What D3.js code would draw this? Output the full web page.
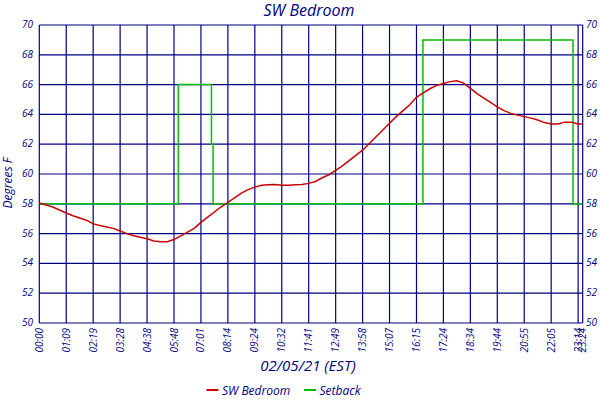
<!DOCTYPE html>
<html>
<head>
<meta charset="utf-8">
<script src="https://cdn.jsdelivr.net/npm/d3@7/dist/d3.min.js"></script>
<style>
  html, body { margin: 0; padding: 0; background: #fff; }
  text { font-family: "Open Sans", sans-serif; font-style: italic; fill: #000080; }
</style>
</head>
<body>
<svg id="chart" width="600" height="400"></svg>
<script>
// ---- data ----
const title = "SW Bedroom";
const xTitle = "02/05/21 (EST)";
const yTitle = "Degrees F";
// x tick labels and their positions (sample-index units)
const tickLabels = ["00:00","01:09","02:19","03:28","04:38","05:48","07:01","08:14","09:24","10:32",
  "11:41","12:49","13:58","15:07","16:15","17:24","18:34","19:44","20:55","22:05","23:14","23:24"];
const tickPos = [0,1,2,3,4,5,6,7,8,9,10,11,12,13,14,15,16,17,18,19,20,20.17];
const yTicks = [50,52,54,56,58,60,62,64,66,68,70];
// SW Bedroom temperature, one sample every 0.25 index units
const bedroomStep = 0.25;
const bedroom = [
  58.05,57.92,57.78,57.58,57.38,57.2,57.05,56.9,
  56.65,56.55,56.45,56.35,56.17,56.0,55.85,55.75,
  55.65,55.5,55.45,55.45,55.6,55.85,56.1,56.35,
  56.75,57.1,57.45,57.8,58.1,58.4,58.72,58.95,
  59.12,59.25,59.28,59.3,59.25,59.25,59.28,59.3,
  59.37,59.5,59.75,59.95,60.25,60.55,60.9,61.25,
  61.6,62.05,62.5,62.95,63.4,63.85,64.25,64.65,
  65.15,65.45,65.72,65.95,66.08,66.2,66.25,66.1,
  65.75,65.4,65.1,64.8,64.5,64.25,64.07,63.95,
  63.85,63.75,63.62,63.45,63.36,63.36,63.48,63.48,
  63.36,63.36
];
// Setback schedule: change positions and values
const setbackPos = [0, 5.16, 6.39, 6.45, 14.24, 19.81, 20.17];
const setbackVal = [58, 66, 62, 58, 69, 58, 58];
const legendNames = ["SW Bedroom", "Setback"];
const legendColors = ["#cc0000", "#00c000"];

// ---- layout ----
const svg = d3.select("#chart");
const L = 39.3, R = 582.7, T = 25, B = 323;
const x = d3.scaleLinear().domain([0, 20.17]).range([L, R]);
const y = d3.scaleLinear().domain([50, 70]).range([B, T]);
const navy = "#000080";

// grid
const g = svg.append("g");
g.selectAll("line.h").data(yTicks).join("line")
  .attr("x1", L).attr("x2", R)
  .attr("y1", d => y(d)).attr("y2", d => y(d))
  .attr("stroke", navy).attr("stroke-width", 1.2);
g.selectAll("line.v").data(tickPos).join("line")
  .attr("x1", d => x(d)).attr("x2", d => x(d))
  .attr("y1", T).attr("y2", B)
  .attr("stroke", navy).attr("stroke-width", 1.2);

// y tick labels left & right
svg.append("g").selectAll("text").data(yTicks).join("text")
  .attr("x", 33).attr("y", d => y(d)).attr("dy", "0.3em")
  .attr("text-anchor", "end").attr("font-size", 10).text(d => d);
svg.append("g").selectAll("text").data(yTicks).join("text")
  .attr("x", 586).attr("y", d => y(d)).attr("dy", "0.3em")
  .attr("text-anchor", "start").attr("font-size", 10).text(d => d);

// x tick labels
svg.append("g").selectAll("text").data(tickLabels).join("text")
  .attr("transform", (d, i) => `translate(${x(tickPos[i])},${B + 5}) rotate(-90)`)
  .attr("dy", "0.35em").attr("text-anchor", "end").attr("font-size", 10).text(d => d);

// clip
svg.append("clipPath").attr("id", "clip").append("rect")
  .attr("x", L).attr("y", T - 2).attr("width", R - L).attr("height", B - T + 4);

// setback line
const sbData = setbackPos.map((p, i) => [p, setbackVal[i]]);
svg.append("path").datum(sbData)
  .attr("clip-path", "url(#clip)")
  .attr("fill", "none").attr("stroke", legendColors[1]).attr("stroke-width", 1.5)
  .attr("d", d3.line().x(d => x(d[0])).y(d => y(d[1])).curve(d3.curveStepAfter));

// bedroom line
const bdData = bedroom.map((v, i) => [i * bedroomStep, v]);
svg.append("path").datum(bdData)
  .attr("clip-path", "url(#clip)")
  .attr("fill", "none").attr("stroke", legendColors[0]).attr("stroke-width", 1.5)
  .attr("d", d3.line().x(d => x(d[0])).y(d => y(d[1])).curve(d3.curveLinear));

// titles
svg.append("text").attr("x", 309).attr("y", 16).attr("text-anchor", "middle")
  .attr("font-size", 16).text(title);
svg.append("text").attr("x", 308).attr("y", 371).attr("text-anchor", "middle")
  .attr("font-size", 15).text(xTitle);
svg.append("text").attr("transform", "translate(12,183) rotate(-90)")
  .attr("text-anchor", "middle").attr("font-size", 12).text(yTitle);

// legend
const legX = [206.5, 304];
const lg = svg.append("g");
legendNames.forEach((n, i) => {
  lg.append("line").attr("x1", legX[i]).attr("x2", legX[i] + 12)
    .attr("y1", 390).attr("y2", 390)
    .attr("stroke", legendColors[i]).attr("stroke-width", 2);
  lg.append("text").attr("x", legX[i] + 15.5).attr("y", 394.5)
    .attr("font-size", 12).text(n);
});
</script>
</body>
</html>
